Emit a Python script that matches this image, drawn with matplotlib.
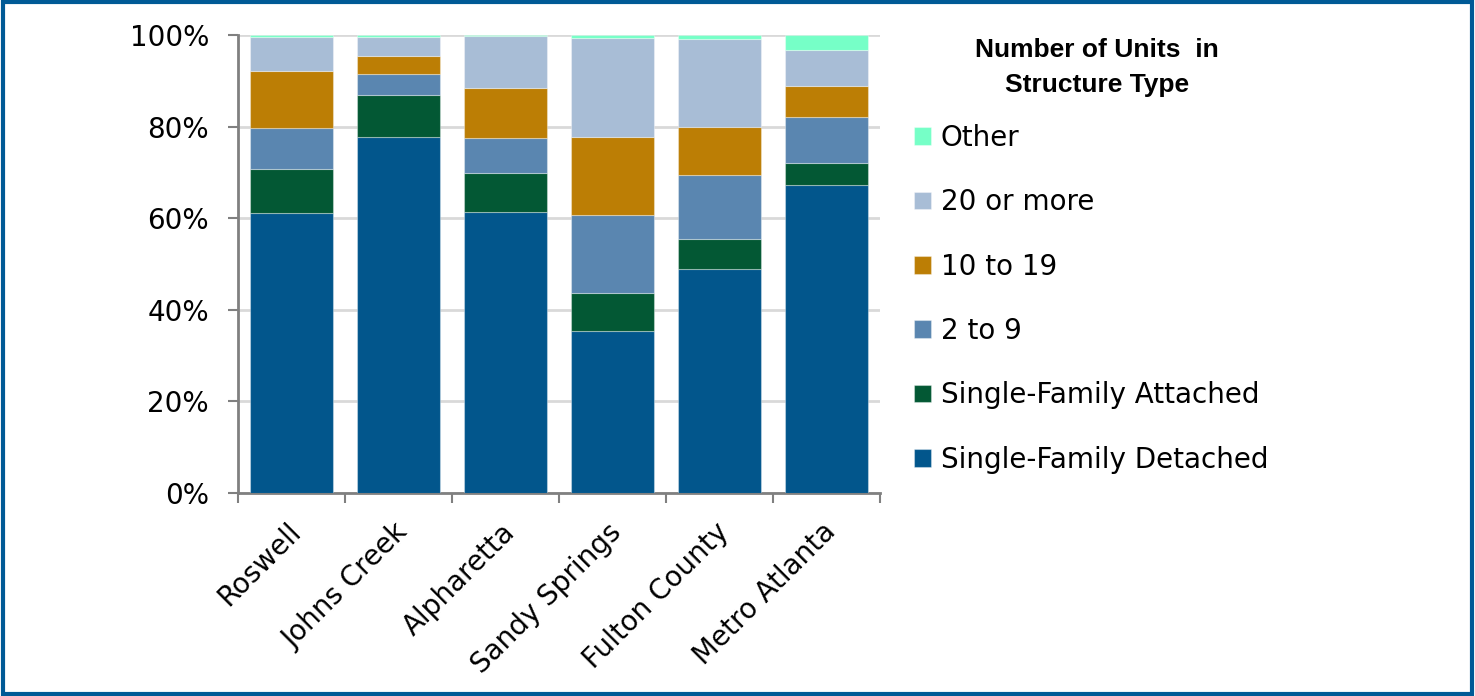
import matplotlib
matplotlib.use("Agg")
import matplotlib.pyplot as plt
from matplotlib.patches import Rectangle
from matplotlib.transforms import ScaledTranslation
import numpy as np

plt.rcParams['font.family'] = ['DejaVu Sans']

categories = ["Roswell", "Johns Creek", "Alpharetta", "Sandy Springs", "Fulton County", "Metro Atlanta"]
series_names = ["Single-Family Detached", "Single-Family Attached", "2 to 9", "10 to 19", "20 or more", "Other"]
sf_detached = [61.1, 77.9, 61.3, 35.4, 49.0, 67.2]
sf_attached = [9.7, 9.1, 8.7, 8.3, 6.5, 5.0]
units_2_9 = [8.9, 4.6, 7.6, 17.0, 14.0, 10.0]
units_10_19 = [12.5, 3.9, 10.9, 17.1, 10.5, 6.7]
units_20_plus = [7.5, 4.2, 11.3, 21.7, 19.3, 8.0]
other = [0.3, 0.3, 0.2, 0.5, 0.7, 3.1]
y_ticks = [0, 20, 40, 60, 80, 100]
y_tick_labels = ["0%", "20%", "40%", "60%", "80%", "100%"]
legend_title_lines = ["Number of Units  in", "Structure Type"]

colors = ["#02568C", "#035834", "#5A86B0", "#BC7E05", "#A8BDD6", "#76FFC7"]

fig = plt.figure(figsize=(14.75, 6.96), dpi=100)
ax = fig.add_axes([0.1614, 0.292, 0.4352, 0.657])

series = [sf_detached, sf_attached, units_2_9, units_10_19, units_20_plus, other]
x = np.arange(len(categories))
bottom = np.zeros(len(categories))
handles = []
for name, vals, col in zip(series_names, series, colors):
    vals = np.array(vals)
    b = ax.bar(x, vals, bottom=bottom, width=0.77, color=col, label=name,
               edgecolor=(1, 1, 1, 0.35), linewidth=0.8, zorder=3)
    handles.append(b)
    bottom += vals

ax.set_xlim(-0.5, len(categories) - 0.5)
ax.set_ylim(0, 100)
ax.set_yticks(y_ticks)
ax.set_yticklabels(y_tick_labels, fontsize=20)
ax.yaxis.grid(True, color="#D9D9D9", linewidth=2, zorder=0)
ax.set_axisbelow(True)

ax.set_xticks(x)
ax.set_xticklabels(categories, rotation=45, ha="right", rotation_mode="anchor", fontsize=20)
ax.tick_params(axis="x", length=0, pad=18)
offset = ScaledTranslation(-5 / 100, 0, fig.dpi_scale_trans)
for lbl in ax.get_xticklabels():
    lbl.set_transform(lbl.get_transform() + offset)
ax.set_xticks(np.arange(-0.5, len(categories)), minor=True)
ax.tick_params(axis="x", which="minor", length=7, width=1.5, color="#808080")
ax.tick_params(axis="y", length=7, width=1.5, color="#808080", pad=14)

for s in ["top", "right"]:
    ax.spines[s].set_visible(False)
for s in ["left", "bottom"]:
    ax.spines[s].set_color("#808080")
    ax.spines[s].set_linewidth(2)

leg = fig.legend(handles[::-1], series_names[::-1], loc="upper left",
                 bbox_to_anchor=(0.603, 0.858), frameon=False, fontsize=20,
                 handlelength=0.6, handleheight=0.6, handletextpad=0.35,
                 labelspacing=1.31)

title_x = 1097 / 1475
for line, ypix in zip(legend_title_lines, [50, 85]):
    fig.text(title_x, 1 - ypix / 696, line, ha="center", va="center",
             fontsize=19, fontweight="bold", color="black",
             family=["Liberation Sans", "DejaVu Sans"])

fig.patches.append(Rectangle((0.002, 0.003), 0.996, 0.994, transform=fig.transFigure,
                             fill=False, edgecolor="#005A96", linewidth=3))

fig.savefig("out.png", dpi=100)
